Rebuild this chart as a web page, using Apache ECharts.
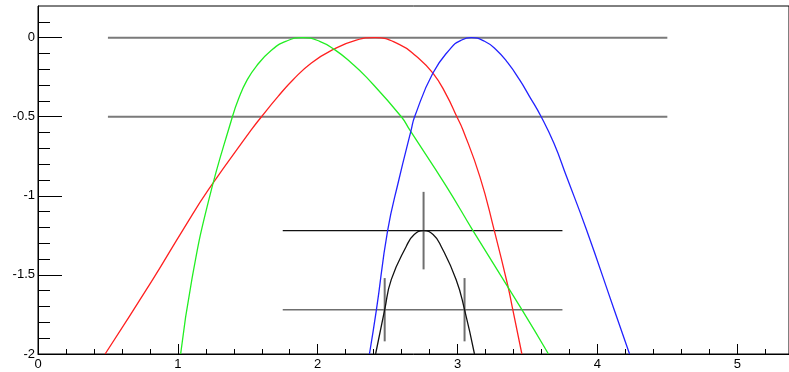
<!DOCTYPE html>
<html>
<head>
<meta charset="utf-8">
<script src="https://cdn.jsdelivr.net/npm/echarts@6/dist/echarts.min.js"></script>
<style>
  html, body { margin: 0; padding: 0; background: #fff; }
  #chart { width: 789px; height: 372px; }
</style>
</head>
<body>
<div id="chart"></div>
<script>
// profile curves, [x, y]
var redCurve = [[0.48,-2.0],[0.82,-1.53],[1.04,-1.21],[1.22,-0.96],[1.526,-0.582],[1.598,-0.5],[1.717,-0.371],[1.824,-0.266],[1.955,-0.16],[2.109,-0.076],[2.276,-0.016],[2.41,0],[2.586,-0.044],[2.705,-0.118],[2.824,-0.224],[2.919,-0.36],[2.995,-0.5],[3.038,-0.582],[3.16,-0.88],[3.26,-1.21],[3.36,-1.57],[3.395,-1.72],[3.46,-2.0]];
var greenCurve = [[1.02,-2.0],[1.10,-1.53],[1.22,-1.03],[1.39,-0.5],[1.437,-0.38],[1.491,-0.275],[1.562,-0.18],[1.669,-0.08],[1.776,-0.022],[1.895,0],[2.014,-0.023],[2.121,-0.076],[2.241,-0.16],[2.348,-0.25],[2.598,-0.5],[2.657,-0.582],[2.92,-0.94],[3.11,-1.22],[3.46,-1.72],[3.65,-2.0]];
var blueCurve = [[2.37,-2.0],[2.42,-1.72],[2.50,-1.22],[2.58,-0.90],[2.669,-0.582],[2.693,-0.5],[2.824,-0.224],[2.955,-0.063],[3.014,-0.022],[3.098,0],[3.193,-0.023],[3.276,-0.076],[3.36,-0.16],[3.443,-0.266],[3.514,-0.371],[3.598,-0.5],[3.69,-0.67],[3.78,-0.88],[3.92,-1.21],[4.12,-1.72],[4.23,-2.0]];
var blackCurve = [[2.414,-2.0],[2.479,-1.72],[2.526,-1.53],[2.633,-1.32],[2.69,-1.245],[2.757,-1.22],[2.825,-1.245],[2.883,-1.32],[2.99,-1.53],[3.05,-1.72],[3.121,-2.0]];

// horizontal reference levels and their x extent
var outerLevels = [0, -0.5];
var outerRange = [0.5, 4.5];
var innerLevels = [-1.22, -1.72];
var innerRange = [1.75, 3.75];

// vertical error bars: [x, yLow, yHigh]
var centerBar = [2.757, -1.465, -0.975];
var sideBars = [[2.479, -1.92, -1.52], [3.05, -1.92, -1.52]];

// axis ticks
var xMajor = [0, 1, 2, 3, 4, 5];
var xMinor = [0.2,0.4,0.6,0.8,1.2,1.4,1.6,1.8,2.2,2.4,2.6,2.8,3.2,3.4,3.6,3.8,4.2,4.4,4.6,4.8,5.2];
var yMajor = [-2, -1.5, -1, -0.5, 0];
var yMinor = [-1.9,-1.8,-1.7,-1.6,-1.4,-1.3,-1.2,-1.1,-0.9,-0.8,-0.7,-0.6,-0.4,-0.3,-0.2,-0.1,0.1];

var X_MIN = 0, X_MAX = 5.37, Y_MIN = -2, Y_MAX = 0.2;
var FONT = 'Liberation Sans, Arial, sans-serif';

function segment(name, pts, color, width) {
    return {
        name: name, type: 'line', data: pts, showSymbol: false, symbol: 'none',
        lineStyle: { color: color, width: width }, silent: true, z: 2
    };
}

function curve(name, pts, color) {
    return {
        name: name, type: 'line', data: pts, smooth: 0.5, showSymbol: false, symbol: 'none',
        lineStyle: { color: color, width: 1.3 }, silent: true, z: 3
    };
}

var series = [];
outerLevels.forEach(function (lv, i) {
    series.push(segment('outer' + i, [[outerRange[0], lv], [outerRange[1], lv]], '#7a7a7a', 2));
});
series.push(segment('inner0', [[innerRange[0], innerLevels[0]], [innerRange[1], innerLevels[0]]], '#111', 1.2));
series.push(segment('inner1', [[innerRange[0], innerLevels[1]], [innerRange[1], innerLevels[1]]], '#6f6f6f', 1.6));
series.push(segment('bar0', [[centerBar[0], centerBar[1]], [centerBar[0], centerBar[2]]], '#6f6f6f', 2));
sideBars.forEach(function (b, i) {
    series.push(segment('side' + i, [[b[0], b[1]], [b[0], b[2]]], '#6f6f6f', 2));
});
series.push(curve('red', redCurve, '#ff2020'));
series.push(curve('green', greenCurve, '#22ee22'));
series.push(curve('blue', blueCurve, '#2222ff'));
series.push(curve('black', blackCurve, '#111'));

function xAxisDef(ticks, len, labels) {
    return {
        type: 'value', min: X_MIN, max: X_MAX, position: 'bottom',
        axisLine: { show: labels, onZero: false, lineStyle: { color: '#000', width: 1 } },
        axisTick: { show: true, inside: true, length: len, customValues: ticks, lineStyle: { color: '#000', width: 1 } },
        axisLabel: { show: labels, customValues: ticks, margin: 4, color: '#000', fontSize: 13, fontFamily: FONT },
        splitLine: { show: false }
    };
}

function yAxisDef(ticks, len, labels) {
    return {
        type: 'value', min: Y_MIN, max: Y_MAX, position: 'left',
        axisLine: { show: labels, onZero: false, lineStyle: { color: '#000', width: 1 } },
        axisTick: { show: true, inside: true, length: len, customValues: ticks, lineStyle: { color: '#000', width: 1 } },
        axisLabel: { show: labels, customValues: ticks, margin: 3, color: '#000', fontSize: 13, fontFamily: FONT },
        splitLine: { show: false }
    };
}

var chart = echarts.init(document.getElementById('chart'));
chart.setOption({
    animation: false,
    backgroundColor: '#fff',
    grid: { left: 38, right: -1, top: 6, bottom: 18, show: true, borderColor: '#000', borderWidth: 1, containLabel: false },
    xAxis: [xAxisDef(xMajor, 10, true), xAxisDef(xMinor, 5, false)],
    yAxis: [yAxisDef(yMajor, 24, true), yAxisDef(yMinor, 12, false)],
    series: series
});
</script>
</body>
</html>
